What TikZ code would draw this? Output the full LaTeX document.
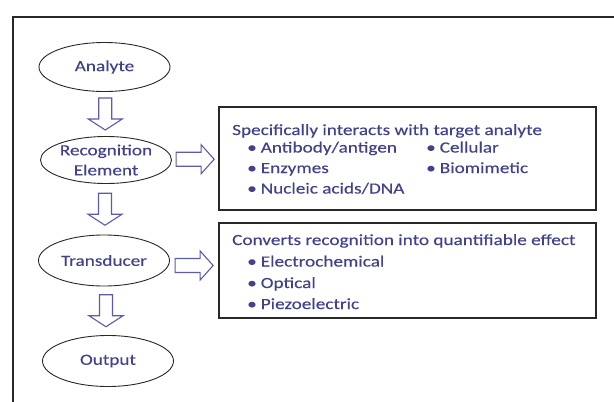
\documentclass[tikz,border=0pt]{standalone}
\usepackage{fontspec}
\setmainfont{Carlito}[FakeStretch=1.24,FakeBold=0.25]
\usetikzlibrary{shapes.geometric,calc}
\definecolor{txt}{RGB}{66,66,140}
\definecolor{arr}{RGB}{92,92,172}
\definecolor{edge}{RGB}{40,40,40}
\tikzset{
  oval/.style={ellipse,draw=edge,line width=0.9pt,minimum width=131pt,minimum height=49pt,inner sep=0pt,text=txt,align=center,font=\fontsize{15.5}{20}\selectfont},
  infobox/.style={draw=edge,line width=1.3pt,minimum width=377pt,inner sep=0pt},
  tline/.style={anchor=base west,text=txt,inner sep=0pt,font=\fontsize{15.5}{18}\selectfont},
  blk/.style={draw=arr,line width=1.1pt,fill=white,line join=miter},
  darrow/.pic={\draw[blk] (-6.5,-16) -- (6.5,-16) -- (6.5,5) -- (17,5) -- (0,16) -- (-17,5) -- (-6.5,5) -- cycle;},
  rarrow/.pic={\draw[blk] (-19,-7) -- (6,-7) -- (6,-14.5) -- (19,0) -- (6,14.5) -- (6,7) -- (-19,7) -- cycle;}
}
\begin{document}
\begin{tikzpicture}[x=1pt,y=-1pt]
\useasboundingbox (0,0) rectangle (614,402);
\clip (0,0) rectangle (614,402);
\fill[white] (0,0) rectangle (614,402);
\draw[line width=2pt,edge] (12.5,16.5) rectangle (640,430);
% ellipses
\node[oval] (ana) at (104.5,67) {Analyte};
\node[oval,minimum height=47pt] (rec) at (106,160) {Recognition\\Element};
\node[oval,minimum height=51pt] (tra) at (104,260.5) {Transducer};
\node[oval,minimum height=51pt] (out) at (108,361) {Output};
% down arrows
\path ($(ana.south)!0.5!(rec.north)$) pic {darrow};
\path ($(rec.south)!0.5!(tra.north)$) pic {darrow};
\path ($(tra.south)!0.5!(out.north)$) pic {darrow};
% boxes
\node[infobox,minimum height=103pt] (box1) at (407.5,158.5) {};
\node[infobox,minimum height=95pt] (box2) at (407.5,270.5) {};
% right arrows
\path ($(rec.east)!0.5!(box1.west)$) pic {rarrow};
\path ($(tra.east)!0.5!(box2.west)$) pic {rarrow};
% box1 text
\node[tline] (t1) at (232,135) {Specifically interacts with target analyte};
\node[tline] (a1) at (247,152.5) {\textbullet\hspace{4pt}Antibody/antigen};
\node[tline] (a2) at (247,173) {\textbullet\hspace{4pt}Enzymes};
\node[tline] (a3) at (247,193.5) {\textbullet\hspace{4pt}Nucleic acids/DNA};
\node[tline] (a4) at (426,152.5) {\textbullet\hspace{4pt}Cellular};
\node[tline] (a5) at (426,173) {\textbullet\hspace{4pt}Biomimetic};
% box2 text
\node[tline] (t2) at (232,245) {Converts recognition into quantifiable effect};
\node[tline] (b1) at (247,266.5) {\textbullet\hspace{4pt}Electrochemical};
\node[tline] (b2) at (247,288) {\textbullet\hspace{4pt}Optical};
\node[tline] (b3) at (247,309) {\textbullet\hspace{4pt}Piezoelectric};
\end{tikzpicture}
\end{document}
